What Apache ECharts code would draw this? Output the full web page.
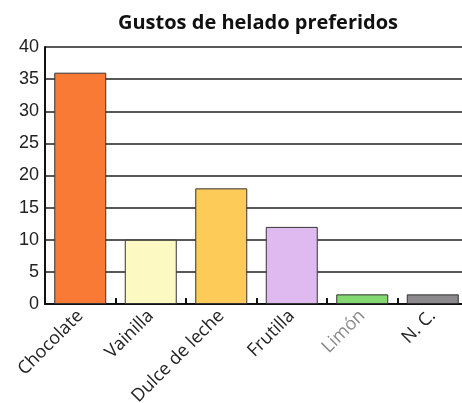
<!DOCTYPE html>
<html><head><meta charset="utf-8">
<script src="https://cdn.jsdelivr.net/npm/echarts@6/dist/echarts.min.js"></script>
<style>html,body{margin:0;padding:0;background:#fff}#c{width:462px;height:403px}</style>
</head><body><div id="c"></div>
<script>
const categories = ["Chocolate", "Vainilla", "Dulce de leche", "Frutilla", "Limón", "N. C."];
const values = [36, 10, 18, 12, 1.5, 1.5];
const barColors = ["#f97a35", "#fdf9c2", "#fccb58", "#dfbaf0", "#84d872", "#8c8a8c"];
const labelColors = ["#222", "#222", "#222", "#222", "#8a8a8a", "#222"];
const yTicks = [0, 5, 10, 15, 20, 25, 30, 35, 40];

const chart = echarts.init(document.getElementById('c'));
chart.setOption({
  animation: false,
  backgroundColor: '#fff',
  title: {
    text: 'Gustos de helado preferidos',
    left: 253, top: 8, textAlign: 'center',
    textStyle: {fontFamily: 'Open Sans', fontWeight: 'bold', fontSize: 20, color: '#111'}
  },
  grid: {left: 45, top: 47, width: 423, height: 257, containLabel: false, outerBoundsMode: 'none'},
  xAxis: {
    type: 'category', data: categories,
    axisLine: {lineStyle: {color: '#111', width: 2}},
    axisTick: {show: true, inside: true, length: 6, lineStyle: {color: '#111', width: 2}},
    axisLabel: {
      rotate: 45, fontFamily: 'Open Sans', fontSize: 18, margin: 9, interval: 0, hideOverlap: false,
      color: function(v, i){ return labelColors[i]; }
    }
  },
  yAxis: {
    type: 'value', min: 0, max: 40, interval: 5,
    axisLine: {show: true, lineStyle: {color: '#111', width: 2}},
    axisTick: {show: false},
    splitLine: {lineStyle: {color: '#222', width: 1.5}},
    axisLabel: {fontFamily: 'Liberation Sans', fontSize: 18, color: '#222', margin: 6,
      formatter: function(v){ return yTicks.indexOf(v) >= 0 ? String(v) : ''; }}
  },
  series: [{
    type: 'bar', barWidth: 52,
    data: values.map((v, i) => ({value: v, itemStyle: {color: barColors[i]}})),
    itemStyle: {borderColor: '#333', borderWidth: 1}
  }]
});
</script></body></html>
